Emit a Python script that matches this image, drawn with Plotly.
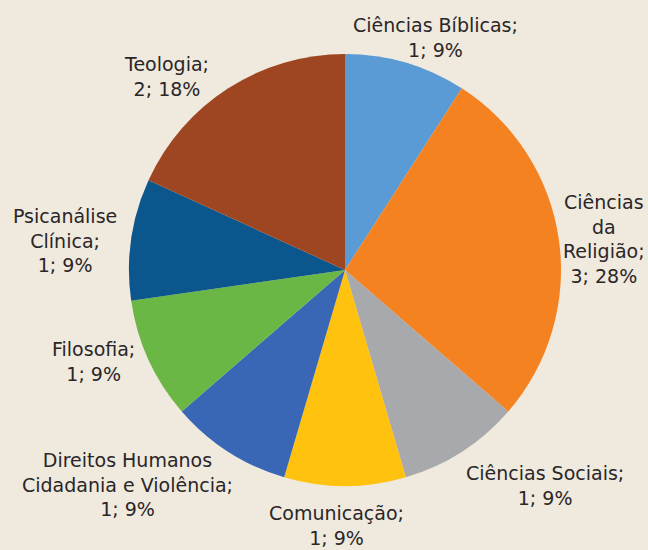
import math
import plotly.graph_objects as go

categories = ["Ciências Bíblicas", "Ciências da Religião", "Ciências Sociais", "Comunicação",
              "Direitos Humanos Cidadania e Violência", "Filosofia", "Psicanálise Clínica", "Teologia"]
values = [1, 3, 1, 1, 1, 1, 1, 2]
percents = [9, 28, 9, 9, 9, 9, 9, 18]
label_lines = [
    ["Ciências Bíblicas;"],
    ["Ciências", "da", "Religião;"],
    ["Ciências Sociais;"],
    ["Comunicação;"],
    ["Direitos Humanos", "Cidadania e Violência;"],
    ["Filosofia;"],
    ["Psicanálise", "Clínica;"],
    ["Teologia;"],
]
colors = ["#5B9BD5", "#F58220", "#A7A9AC", "#FFC20E", "#3A67B5", "#6BB745", "#0B568C", "#9E4622"]

W, H = 648, 550
CX, CY, R = 345, 270, 216
# label distance from centre (px) and angular nudge from slice middle (deg), per slice
label_r = [250, 261, 294, 256, 305, 268, 282, 263]
label_da = [4.9, 1.4, -10.1, 1.8, 12.7, 4.5, -2.1, -10.0]
BG = "#EFE9DE"
FONT = "DejaVu Sans, sans-serif"

fig = go.Figure(go.Pie(
    labels=categories, values=values, sort=False, direction="clockwise", rotation=0,
    marker=dict(colors=colors, line=dict(width=0)),
    textinfo="none", hoverinfo="label+value+percent", showlegend=False,
    domain=dict(x=[(CX - R) / W, (CX + R) / W], y=[(H - CY - R) / H, (H - CY + R) / H]),
))

total = sum(values)
cum = 0
annotations = []
for i, v in enumerate(values):
    mid = (cum + v / 2) / total * 360 + label_da[i]
    cum += v
    a = math.radians(mid)
    px = CX + label_r[i] * math.sin(a)
    py = CY - label_r[i] * math.cos(a)
    text = "<br>".join(label_lines[i] + [f"{v}; {percents[i]}%"])
    annotations.append(dict(x=px / W, y=1 - py / H, xref="paper", yref="paper", text=text,
                            showarrow=False, xanchor="center", yanchor="middle", align="center",
                            font=dict(family=FONT, size=19, color="#2A2627")))

fig.update_layout(width=W, height=H, margin=dict(l=0, r=0, t=0, b=0),
                  paper_bgcolor=BG, plot_bgcolor=BG, annotations=annotations)
fig.write_html("out.html", config={"displayModeBar": False},
               post_script="document.body.style.margin='0';document.body.style.overflow='hidden';")
